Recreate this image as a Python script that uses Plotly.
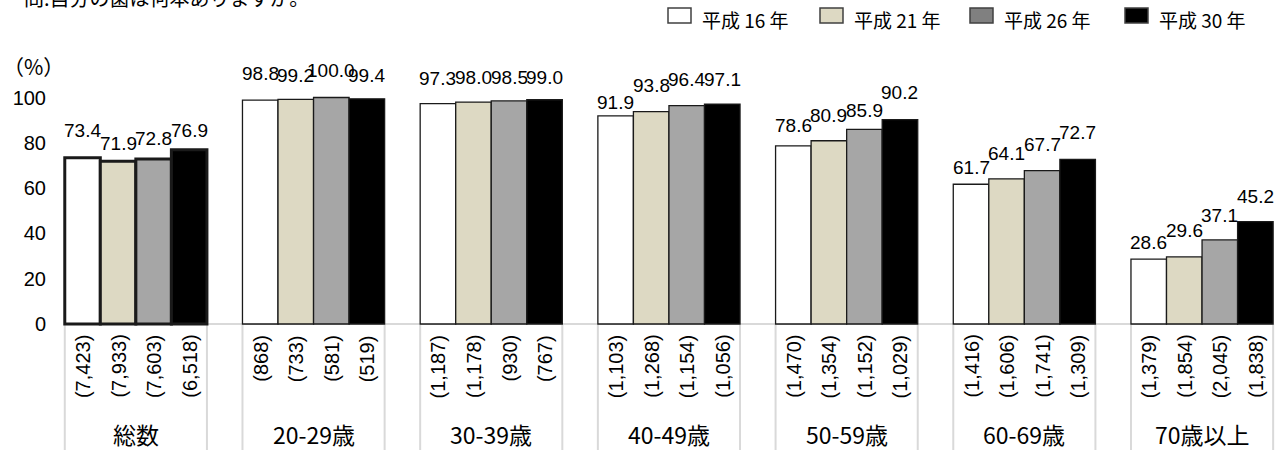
import plotly.graph_objects as go

# ---------------- data ----------------
categories = ["総数", "20-29歳", "30-39歳", "40-49歳", "50-59歳", "60-69歳", "70歳以上"]
series_names = ["平成 16 年", "平成 21 年", "平成 26 年", "平成 30 年"]

h16 = [73.4, 98.8, 97.3, 91.9, 78.6, 61.7, 28.6]
h21 = [71.9, 99.2, 98.0, 93.8, 80.9, 64.1, 29.6]
h26 = [72.8, 100.0, 98.5, 96.4, 85.9, 67.7, 37.1]
h30 = [76.9, 99.4, 99.0, 97.1, 90.2, 72.7, 45.2]

n_h16 = ["7,423", "868", "1,187", "1,103", "1,470", "1,416", "1,379"]
n_h21 = ["7,933", "733", "1,178", "1,268", "1,354", "1,606", "1,854"]
n_h26 = ["7,603", "581", "930", "1,154", "1,152", "1,741", "2,045"]
n_h30 = ["6,518", "519", "767", "1,056", "1,029", "1,309", "1,838"]

y_ticks = [0, 20, 40, 60, 80, 100]
title_text = "問:自分の歯は何本ありますか。"
unit_text = "（%）"

values = [h16, h21, h26, h30]
counts = [n_h16, n_h21, n_h26, n_h30]

# ---------------- style ----------------
bar_colors = ["#FFFFFF", "#DDD9C3", "#A6A6A6", "#000000"]
legend_colors = ["#FFFFFF", "#DDD9C3", "#808080", "#000000"]
# manual label lift (px above bar top), like the nudged labels of the original
label_gap = [
    [20, 19, 18, 6, 13, 9, 9],
    [10, 16, 17, 19, 18, 18, 19],
    [13, 20, 16, 19, 11, 19, 17],
    [12, 16, 15, 17, 20, 19, 18],
]

JP = "Noto Sans CJK JP"
NUM = "Liberation Sans, Arial, sans-serif"
GRID = "#D9D9D9"

FIG_W, FIG_H = 1282, 450
L, T = 47, 60
PW, PH = FIG_W - L, FIG_H - T
Y0_PX, SCALE = 324, 2.265
y_min = -(FIG_H - Y0_PX) / SCALE
y_max = (Y0_PX - T) / SCALE


def px_x(px):
    return (px - L) / PW


def px_y(py):
    return (FIG_H - py) / PH


n_series = len(values)
group_w = 0.8
bar_w = group_w / n_series

fig = go.Figure()
for i, (name, vals) in enumerate(zip(series_names, values)):
    lw = [3 if k == 0 else 1.3 for k in range(len(categories))]
    fig.add_trace(go.Bar(
        x=categories, y=vals, name=name,
        marker=dict(color=bar_colors[i], line=dict(color="#1a1a1a", width=lw)),
        showlegend=False, hoverinfo="x+y",
    ))

annotations = []
shapes = []

# value labels and count labels
for i in range(n_series):
    for k, cat in enumerate(categories):
        xpos = k + (i - (n_series - 1) / 2) * bar_w
        annotations.append(dict(
            x=xpos, y=values[i][k], xref="x", yref="y",
            text=f"{values[i][k]:.1f}", showarrow=False,
            xanchor="center", yanchor="bottom", yshift=label_gap[i][k] - 5,
            font=dict(family=NUM, size=19, color="#000000"),
        ))
        annotations.append(dict(
            x=xpos, y=px_y(333), xref="x", yref="paper",
            text=f"({counts[i][k]})", showarrow=False, textangle=-90,
            xanchor="center", yanchor="top",
            font=dict(family=NUM, size=20, color="#000000"),
        ))

# category labels and table cell borders
for k, cat in enumerate(categories):
    annotations.append(dict(
        x=k, y=px_y(434), xref="x", yref="paper", text=cat, showarrow=False,
        xanchor="center", yanchor="middle",
        font=dict(family=JP, size=23, color="#000000"),
    ))
    for edge in (k - group_w / 2, k + group_w / 2):
        shapes.append(dict(
            type="line", xref="x", yref="y", x0=edge, x1=edge, y0=0, y1=y_min,
            line=dict(color=GRID, width=2), layer="below",
        ))

# baseline
shapes.append(dict(
    type="line", xref="x", yref="y", x0=-group_w / 2, x1=len(categories) - 1 + group_w / 2,
    y0=0, y1=0, line=dict(color=GRID, width=2), layer="below",
))

# title (cut at top) and unit
annotations.append(dict(
    x=px_x(22), y=px_y(-2), xref="paper", yref="paper", text=title_text,
    showarrow=False, xanchor="left", yanchor="middle",
    font=dict(family=JP, size=20, color="#000000"),
))
annotations.append(dict(
    x=px_x(1), y=px_y(66), xref="paper", yref="paper", text=unit_text,
    showarrow=False, xanchor="left", yanchor="middle",
    font=dict(family=JP, size=21, color="#000000"),
))

# legend (drawn manually to match the swatch size)
legend_x0 = [668, 820, 970, 1125]
for i, name in enumerate(series_names):
    sx = legend_x0[i]
    shapes.append(dict(
        type="rect", xref="paper", yref="paper",
        x0=px_x(sx), x1=px_x(sx + 23), y0=px_y(23), y1=px_y(8),
        fillcolor=legend_colors[i], line=dict(color="#404040", width=1.5),
    ))
    annotations.append(dict(
        x=px_x(sx + 32), y=px_y(20), xref="paper", yref="paper", text=name,
        showarrow=False, xanchor="left", yanchor="middle",
        font=dict(family=JP, size=19, color="#000000"),
    ))

fig.update_layout(
    width=FIG_W, height=FIG_H,
    margin=dict(l=L, r=0, t=T, b=0, pad=0, autoexpand=False),
    paper_bgcolor="#FFFFFF", plot_bgcolor="#FFFFFF",
    barmode="group", bargap=1 - group_w, bargroupgap=0,
    xaxis=dict(type="category", range=[-0.5, -0.5 + PW / 177.7], automargin=False,
               showticklabels=False, showgrid=False, zeroline=False,
               showline=False, ticks="", fixedrange=True),
    yaxis=dict(range=[y_min, y_max], tickvals=y_ticks, ticktext=[str(v) for v in y_ticks],
               automargin=False,
               showgrid=False, zeroline=False, showline=False, ticks="",
               tickfont=dict(family=NUM, size=20, color="#000000"), fixedrange=True),
    annotations=annotations, shapes=shapes,
    showlegend=False,
)

fig.write_html(
    "out.html",
    config={"displayModeBar": False},
    post_script="document.body.style.margin='0';document.body.style.overflow='hidden';",
)
